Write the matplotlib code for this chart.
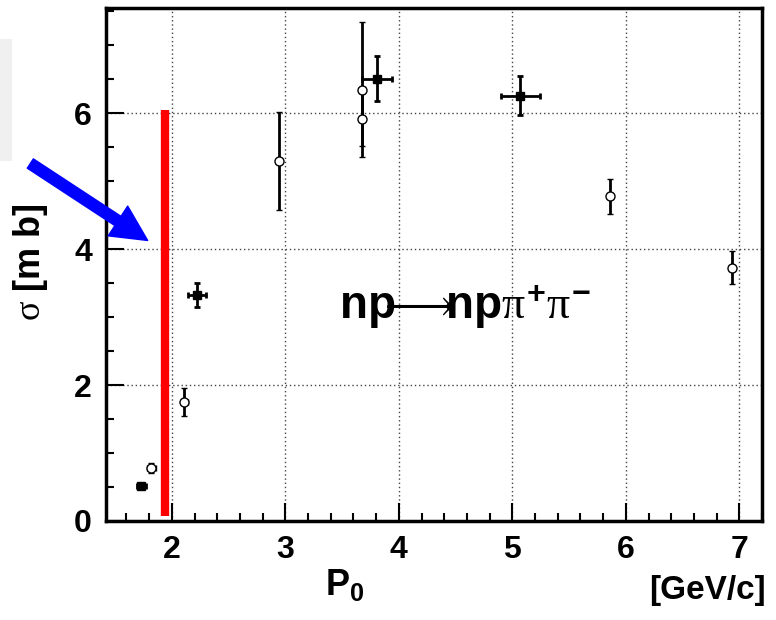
import matplotlib
matplotlib.use("Agg")
import matplotlib.pyplot as plt
from matplotlib import font_manager
from matplotlib.patches import FancyArrowPatch, Rectangle
from matplotlib.ticker import MultipleLocator

# 字体: 窄体加粗, 没有就退回普通 Liberation Sans
names = {f.name for f in font_manager.fontManager.ttflist}
main_font = "Liberation Sans Narrow" if "Liberation Sans Narrow" in names else "Liberation Sans"
plt.rcParams['font.family'] = [main_font, 'DejaVu Sans']
plt.rcParams['mathtext.fontset'] = 'custom'
plt.rcParams['mathtext.rm'] = 'Liberation Serif'
plt.rcParams['mathtext.it'] = 'Liberation Serif'
plt.rcParams['mathtext.bf'] = main_font + ':bold'

# open circles (y error only, some with tiny x error)
open_x = [1.82, 2.11, 2.94, 3.68, 3.68, 5.86, 6.94]
open_y = [0.78, 1.75, 5.30, 6.35, 5.92, 4.78, 3.73]
open_yerr = [0.07, 0.21, 0.72, 1.00, 0.40, 0.26, 0.24]
open_xerr = [0.04, 0.03, 0.0, 0.0, 0.0, 0.0, 0.0]

# filled squares
filled_x = [1.73, 2.22, 3.81, 5.07]
filled_y = [0.51, 3.33, 6.51, 6.26]
filled_yerr = [0.03, 0.18, 0.33, 0.29]
filled_xerr = [0.04, 0.08, 0.13, 0.17]

# threshold bar
bar_x = 1.94
bar_top = 6.05

fig = plt.figure(figsize=(7.76, 6.2), dpi=100)
ax = fig.add_axes([106/776, 99/620, 656/776, 513/620])

ax.set_xlim(1.42, 7.2)
ax.set_ylim(0, 7.55)

# 网格
ax.grid(True, which='major', color='#444444', linestyle=(0, (1, 2)), linewidth=1.0)
ax.set_axisbelow(True)

ax.errorbar(open_x, open_y, yerr=open_yerr, xerr=open_xerr, fmt='o', ms=6.5,
            mfc='white', mec='black', mew=1.0, ecolor='black', elinewidth=2,
            capsize=2.5, capthick=2, zorder=4)
ax.errorbar(filled_x, filled_y, yerr=filled_yerr, xerr=filled_xerr, fmt='s', ms=6,
            mfc='black', mec='black', ecolor='black', elinewidth=2,
            capsize=2.5, capthick=2, zorder=4)

ax.plot([bar_x, bar_x], [0.08, bar_top], color='#ff0000', linewidth=6,
        solid_capstyle='butt', zorder=3)

ax.text(4.58, 3.15, r"$\mathbf{np}\!\!\!\longrightarrow\!\!\!\mathbf{np}\pi^{\mathbf{+}}\pi^{\mathbf{-}}$",
        fontsize=33, ha='center', va='center')

# 坐标轴样式
for s in ax.spines.values():
    s.set_linewidth(2.5)
ax.xaxis.set_major_locator(MultipleLocator(1))
ax.xaxis.set_minor_locator(MultipleLocator(0.2))
ax.yaxis.set_major_locator(MultipleLocator(2))
ax.yaxis.set_minor_locator(MultipleLocator(0.5))
ax.tick_params(which='both', direction='in', top=False, right=False, width=1.5)
ax.tick_params(which='major', length=13, labelsize=23, pad=10)
ax.tick_params(which='minor', length=5.5)
for lab in ax.get_xticklabels() + ax.get_yticklabels():
    lab.set_fontweight('bold')

ax.set_ylabel(r"$\sigma$ [m b]", fontsize=26, fontweight='bold')
ax.yaxis.set_label_coords(-0.086, 0.505)
fig.text(345/776, 1 - 585/620, r"$\mathbf{P_0}$", fontsize=26, ha='center', va='center')
fig.text(766/776, 1 - 590/620, "[GeV/c]", fontsize=24, fontweight='bold',
         ha='right', va='center')

# 左边的灰块和蓝箭头
fig.patches.append(Rectangle((0, 0.740), 12/776, 0.197, transform=fig.transFigure,
                             facecolor='#f0f0f0', edgecolor='none'))
arrow = FancyArrowPatch((28/776, 1 - 162/620), (150/776, 1 - 242/620),
                        transform=fig.transFigure,
                        arrowstyle='simple,head_length=1.6,head_width=1.6,tail_width=0.5',
                        mutation_scale=16, color='#0000ff', clip_on=False)
fig.patches.append(arrow)

fig.savefig("out.png", dpi=100)
